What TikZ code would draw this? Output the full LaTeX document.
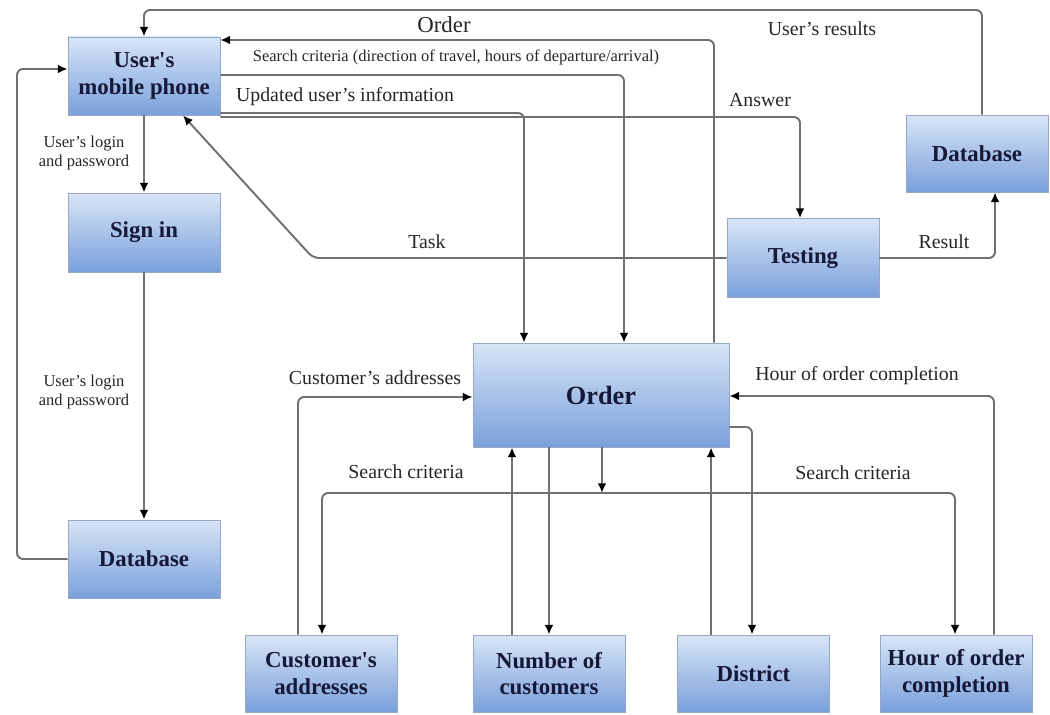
\documentclass[tikz,border=0pt]{standalone}
\usepackage{fontspec}
\setmainfont{Liberation Serif}
\usepackage{tikz}
\usetikzlibrary{positioning,calc,arrows.meta}

\definecolor{boxtop}{RGB}{216,229,247}
\definecolor{boxbot}{RGB}{122,160,220}
\definecolor{boxline}{RGB}{150,168,196}
\definecolor{boxtext}{RGB}{22,24,56}
\definecolor{flowgray}{RGB}{112,112,112}

\tikzset{
  block/.style={draw=boxline, line width=0.5pt, top color=boxtop, bottom color=boxbot,
    text=boxtext, font=\fontsize{13}{15}\selectfont\bfseries, align=center,
    minimum width=3.04cm, minimum height=1.56cm, inner sep=0pt},
  flow/.style={draw=flowgray, line width=1.1pt, rounded corners=3.5pt,
    -{Latex[length=5.5pt,width=5pt,color=black]}},
  lbl/.style={font=\fontsize{11.3}{13}\selectfont, text=black!85, inner sep=1pt},
  smalllbl/.style={font=\fontsize{9.4}{11}\selectfont, text=black!85, align=center, inner sep=1pt}
}

\begin{document}
\begin{tikzpicture}[x=0.02cm,y=-0.02cm]
  \useasboundingbox (0,0) rectangle (1050,715);

  \node[block] (phone) at (144,76) {User\textquotesingle s\\mobile phone};
  \node[block, minimum height=1.58cm] (signin) at (144,232.5) {Sign in};
  \node[block] (dbl) at (144,559) {Database};
  \node[block, minimum width=2.84cm, minimum height=1.54cm] (dbr) at (977,153.5) {Database};
  \node[block, minimum height=1.58cm] (testing) at (803,258) {Testing};
  \node[block, minimum width=5.12cm, minimum height=2.08cm,
        font=\fontsize{15}{18}\selectfont\bfseries] (order) at (601,395) {Order};
  \node[block, minimum height=1.54cm] (cust) at (321,673.5) {Customer\textquotesingle s\\addresses};
  \node[block, minimum height=1.54cm] (number) at (549,673.5) {Number of\\customers};
  \node[block, minimum height=1.54cm] (district) at (753.5,673.5) {District};
  \node[block, minimum height=1.54cm] (hour) at (956,673.5) {Hour of order\\completion};

  \coordinate (split) at (602,493);

  \draw[flow] (dbr.north -| 982,0) -- (982,10) -| (phone.north);
  \draw[flow] (order.north -| 714,0) -- (714,40) -- (phone.east |- 0,40);
  \draw[flow] (phone.east |- 0,75) -| (order.north -| 624,0);
  \draw[flow] (phone.east |- 0,113) -| (order.north -| 524,0);
  \draw[flow] (phone.east |- 0,117) -| (testing.north -| 800,0);
  \draw[flow] (testing.west) -- (313,258) -- (phone.south -| 183,0);
  \draw[flow] (testing.east) -| (dbr.south -| 995,0);

  \draw[flow] (phone) -- (signin);
  \draw[flow] (signin) -- (dbl);
  \draw[flow] (dbl.west) -| (17,69) -- (phone.west |- 0,69);

  \draw[flow] (cust.north -| 298,0) |- (order.west |- 0,397);
  \draw[flow] (order.south -| split) -- (split);
  \draw[flow] (split) -| (cust.north -| 322,0);
  \draw[flow] (split) -| (hour.north -| 955,0);
  \draw[flow] (number.north -| 512,0) -- (order.south -| 512,0);
  \draw[flow] (order.south -| 549,0) -- (number.north);
  \draw[flow] (district.north -| 711,0) -- (order.south -| 711,0);
  \draw[flow] (order.east |- 0,427) -| (district.north -| 752,0);
  \draw[flow] (hour.north -| 994,0) |- (order.east |- 0,396);

  \node[lbl, font=\fontsize{13}{15}\selectfont] (lorder) at (444,25) {Order};
  \node[lbl] (lresults) at (822,29) {User's results};
  \node[smalllbl] (lsearch) at (456,57) {Search criteria (direction of travel, hours of departure/arrival)};
  \node[lbl] (lupdated) at (345,97) {Updated user's information};
  \node[lbl] (lanswer) at (760,100) {Answer};
  \node[lbl] (ltask) at (427,242) {Task};
  \node[lbl] (lresult) at (944,242) {Result};
  \node[smalllbl] (llogin) at (84,153) {User's login\\and password};
  \node[smalllbl] (llogin2) at (84,392) {User's login\\and password};
  \node[lbl] (lcust) at (375,378) {Customer's addresses};
  \node[lbl] (lhour) at (857,376) {Hour of order completion};
  \node[lbl] (lcrit) at (406,472) {Search criteria};
  \node[lbl] (lcrit2) at (853,473) {Search criteria};
\end{tikzpicture}
\end{document}
